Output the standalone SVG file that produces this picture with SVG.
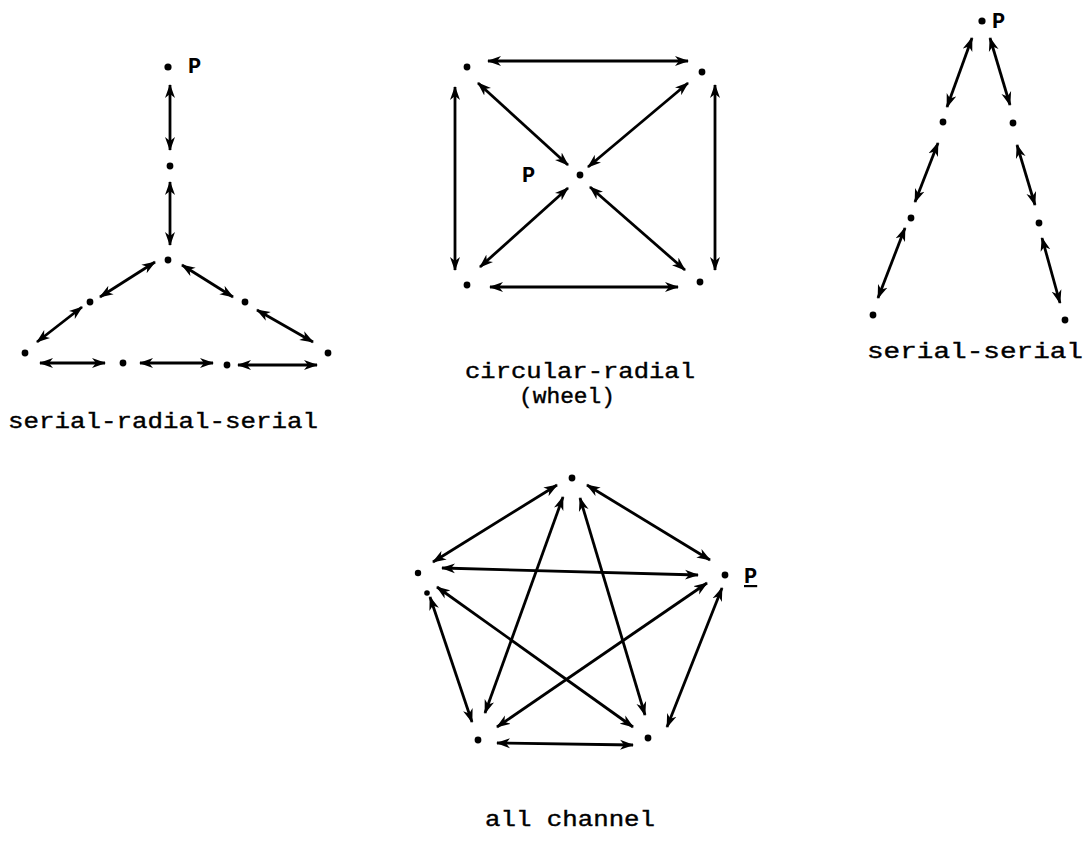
<svg xmlns="http://www.w3.org/2000/svg" width="1086" height="841" viewBox="0 0 1086 841">
<defs>
<style>
.n{fill:#000}
.c line{stroke:#000;stroke-width:2.8;marker-start:url(#ah);marker-end:url(#ah)}
.t{font-family:"Liberation Mono","Courier New",monospace;font-size:22px;fill:#000;stroke:#000;stroke-width:0.4}
.p{font-family:"Liberation Mono","Courier New",monospace;font-size:22px;font-weight:bold;fill:#000}
</style>
<marker id="ah" viewBox="0 0 14 11" refX="13" refY="5.5" markerWidth="14" markerHeight="11" markerUnits="userSpaceOnUse" orient="auto-start-reverse">
<path d="M0,0.5 L14,5.5 L0,10.5 L4,5.5 Z" fill="#000"/>
</marker>
</defs>
<rect width="1086" height="841" fill="#fff"/>

<!-- serial-radial-serial -->
<g id="srs">
<g id="srs-n1"><circle class="n" cx="168" cy="67" r="3.6"/><text class="p" x="188" y="73">P</text></g>
<g id="srs-n2"><circle class="n" cx="170" cy="166" r="3.4"/></g>
<g id="srs-n3"><circle class="n" cx="168" cy="260" r="3.4"/></g>
<g id="srs-n4"><circle class="n" cx="90" cy="302" r="3.4"/></g>
<g id="srs-n5"><circle class="n" cx="25" cy="353" r="3.4"/></g>
<g id="srs-n6"><circle class="n" cx="245" cy="302" r="3.4"/></g>
<g id="srs-n7"><circle class="n" cx="328" cy="353" r="3.4"/></g>
<g id="srs-n8"><circle class="n" cx="123" cy="363" r="3.4"/></g>
<g id="srs-n9"><circle class="n" cx="227" cy="365" r="3.4"/></g>
<text class="t" x="8" y="428" textLength="310" lengthAdjust="spacingAndGlyphs">serial-radial-serial</text>
</g>

<!-- wheel -->
<g id="wheel">
<g id="wh-tl"><circle class="n" cx="467" cy="67" r="3.4"/></g>
<g id="wh-tr"><circle class="n" cx="702" cy="72" r="3.4"/></g>
<g id="wh-c"><circle class="n" cx="580" cy="175" r="3.4"/><text class="p" x="522" y="182">P</text></g>
<g id="wh-bl"><circle class="n" cx="467" cy="285" r="3.4"/></g>
<g id="wh-br"><circle class="n" cx="700" cy="282" r="3.4"/></g>
<text class="t" x="465" y="378" textLength="230" lengthAdjust="spacingAndGlyphs">circular-radial</text>
<text class="t" x="519" y="403" textLength="96" lengthAdjust="spacingAndGlyphs">(wheel)</text>
</g>

<!-- serial-serial -->
<g id="ss">
<g id="ss-p"><circle class="n" cx="982" cy="21" r="3.6"/><text class="p" x="992" y="28">P</text></g>
<g id="ss-l1"><circle class="n" cx="943" cy="122" r="3.4"/></g>
<g id="ss-l2"><circle class="n" cx="911" cy="218" r="3.4"/></g>
<g id="ss-l3"><circle class="n" cx="873" cy="315" r="3.4"/></g>
<g id="ss-r1"><circle class="n" cx="1013" cy="123" r="3.4"/></g>
<g id="ss-r2"><circle class="n" cx="1039" cy="223" r="3.4"/></g>
<g id="ss-r3"><circle class="n" cx="1065" cy="320" r="3.4"/></g>
<text class="t" x="867" y="358" textLength="216" lengthAdjust="spacingAndGlyphs">serial-serial</text>
</g>

<!-- all channel -->
<g id="ac">
<g id="ac-t"><circle class="n" cx="572" cy="478" r="3.4"/></g>
<g id="ac-l"><circle class="n" cx="418" cy="573" r="3.2"/><circle class="n" cx="427" cy="593" r="2.8"/></g>
<g id="ac-r"><circle class="n" cx="725" cy="575" r="3.4"/><text class="p" x="744" y="583" text-decoration="underline">P</text></g>
<g id="ac-bl"><circle class="n" cx="478" cy="740" r="3.4"/></g>
<g id="ac-br"><circle class="n" cx="648" cy="738" r="3.4"/></g>
<text class="t" x="485" y="826" textLength="170" lengthAdjust="spacingAndGlyphs">all channel</text>
</g>

<g id="connectors" class="c">
<!-- srs -->
<line x1="170" y1="85" x2="170" y2="150"/>
<line x1="170" y1="182" x2="170" y2="245"/>
<line x1="100" y1="297" x2="155" y2="262"/>
<line x1="37" y1="342" x2="82" y2="307"/>
<line x1="182" y1="265" x2="233" y2="297"/>
<line x1="257" y1="310" x2="313" y2="342"/>
<line x1="40" y1="363" x2="105" y2="363"/>
<line x1="140" y1="363" x2="213" y2="363"/>
<line x1="238" y1="365" x2="317" y2="365"/>
<!-- wheel -->
<line x1="488" y1="61" x2="688" y2="61"/>
<line x1="490" y1="287" x2="678" y2="287"/>
<line x1="455" y1="87" x2="455" y2="270"/>
<line x1="715" y1="85" x2="715" y2="270"/>
<line x1="478" y1="83" x2="568" y2="165"/>
<line x1="688" y1="83" x2="588" y2="167"/>
<line x1="568" y1="188" x2="480" y2="267"/>
<line x1="590" y1="187" x2="685" y2="270"/>
<!-- serial-serial -->
<line x1="972" y1="38" x2="947" y2="107"/>
<line x1="938" y1="143" x2="915" y2="202"/>
<line x1="905" y1="228" x2="878" y2="298"/>
<line x1="990" y1="38" x2="1010" y2="105"/>
<line x1="1017" y1="145" x2="1035" y2="205"/>
<line x1="1042" y1="238" x2="1060" y2="303"/>
<!-- all channel -->
<line x1="557" y1="485" x2="433" y2="562"/>
<line x1="587" y1="485" x2="710" y2="560"/>
<line x1="442" y1="568" x2="698" y2="575"/>
<line x1="430" y1="597" x2="472" y2="722"/>
<line x1="437" y1="587" x2="633" y2="727"/>
<line x1="563" y1="497" x2="485" y2="713"/>
<line x1="580" y1="498" x2="645" y2="715"/>
<line x1="707" y1="583" x2="497" y2="727"/>
<line x1="722" y1="588" x2="667" y2="727"/>
<line x1="497" y1="743" x2="633" y2="745"/>
</g>
</svg>
